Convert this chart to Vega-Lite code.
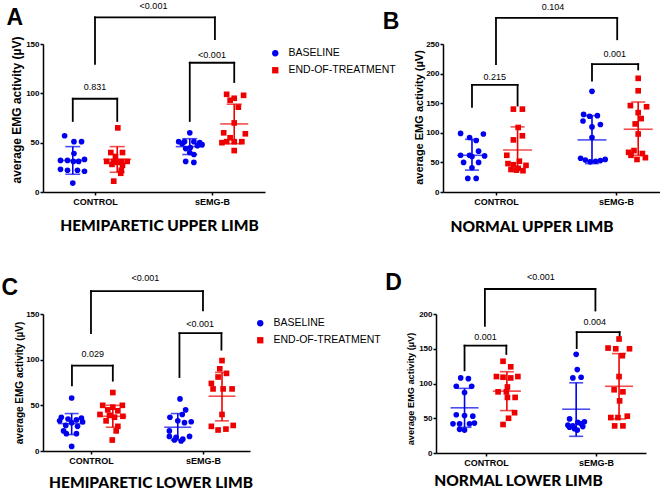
{
"$schema": "https://vega.github.io/schema/vega-lite/v6.json",
"padding": {"left": 1, "top": 1, "right": 0, "bottom": 0},
"background": "white",
"config": {
  "view": {"stroke": null},
  "axis": {"grid": false, "domainColor": "#000", "domainWidth": 1.5, "tickColor": "#000", "tickWidth": 1.5, "tickSize": 3, "labelColor": "#000", "labelFont": "Liberation Sans", "labelFontWeight": "bold", "titleColor": "#000", "titleBaseline": "middle"},
  "axisX": {"labelFontSize": 9, "labelPadding": 2, "titleFont": "Lato", "titleFontWeight": 900, "titleFontSize": 15.5},
  "axisY": {"labelFontSize": 8, "labelPadding": 1, "titleFont": "Liberation Sans", "titleFontWeight": "bold"},
  "legend": {"labelFont": "Liberation Sans", "labelFontSize": 10.5, "labelColor": "#000", "symbolSize": 40, "rowPadding": 6, "padding": 4, "labelOffset": 8, "symbolStrokeWidth": 0},
  "text": {"font": "Liberation Sans", "color": "#000"}
},
"spacing": 36,
"resolve": {"scale": {"x": "independent", "y": "independent", "color": "independent", "shape": "independent"}, "axis": {"x": "independent", "y": "independent"}, "legend": {"color": "independent", "shape": "independent"}},
"vconcat": [
{
"hconcat": [
{
 "width": 222, "height": 148,
 "encoding": {
  "x": {"field": "x", "type": "quantitative", "scale": {"domain": [0.111, 3.906], "nice": false, "zero": false}, "axis": {"values": [1, 3], "labelExpr": "datum.value == 1 ? 'CONTROL' : 'sEMG-B'", "title": "HEMIPARETIC UPPER LIMB", "titleX": 116, "titleY": 33}},
  "y": {"field": "y", "type": "quantitative", "scale": {"domain": [0, 150], "nice": false}, "axis": {"values": [0, 50, 100, 150], "title": "average EMG activity (µV)", "titleFontSize": 12, "titleX": -26.5, "titleY": 65.5}}
 },
 "layer": [
  {"data": {"values": [
    {"x": 0.62, "x2": 1.38, "y": 94.5, "y2": 94.5}, {"x": 0.62, "x2": 0.62, "y": 72, "y2": 94.5}, {"x": 1.38, "x2": 1.38, "y": 72, "y2": 94.5},
    {"x": 2.62, "x2": 3.38, "y": 131, "y2": 131}, {"x": 2.62, "x2": 2.62, "y": 72, "y2": 131}, {"x": 3.38, "x2": 3.38, "y": 111.5, "y2": 131},
    {"x": 1.0, "x2": 3.05, "y": 177, "y2": 177}, {"x": 1.0, "x2": 1.0, "y": 130, "y2": 177}, {"x": 3.05, "x2": 3.05, "y": 155, "y2": 177}]},
   "mark": {"type": "rule", "color": "#000", "strokeWidth": 1.8, "strokeCap": "square"},
   "encoding": {"x2": {"field": "x2"}, "y2": {"field": "y2"}}},
  {"data": {"values": [
    {"t": "BASELINE", "x": 0.48, "y": 57}, {"t": "BASELINE", "x": 0.64, "y": 51}, {"t": "BASELINE", "x": 0.77, "y": 51}, {"t": "BASELINE", "x": 0.64, "y": 39}, {"t": "BASELINE", "x": 0.41, "y": 32}, {"t": "BASELINE", "x": 0.53, "y": 32}, {"t": "BASELINE", "x": 0.63, "y": 31}, {"t": "BASELINE", "x": 0.72, "y": 31}, {"t": "BASELINE", "x": 0.82, "y": 33}, {"t": "BASELINE", "x": 0.41, "y": 23}, {"t": "BASELINE", "x": 0.53, "y": 22}, {"t": "BASELINE", "x": 0.70, "y": 22}, {"t": "BASELINE", "x": 0.82, "y": 21}, {"t": "BASELINE", "x": 0.62, "y": 9},
    {"t": "END-OF-TREATMENT", "x": 1.39, "y": 65}, {"t": "END-OF-TREATMENT", "x": 1.27, "y": 40}, {"t": "END-OF-TREATMENT", "x": 1.47, "y": 40}, {"t": "END-OF-TREATMENT", "x": 1.35, "y": 36}, {"t": "END-OF-TREATMENT", "x": 1.20, "y": 31}, {"t": "END-OF-TREATMENT", "x": 1.32, "y": 31}, {"t": "END-OF-TREATMENT", "x": 1.55, "y": 31}, {"t": "END-OF-TREATMENT", "x": 1.45, "y": 31}, {"t": "END-OF-TREATMENT", "x": 1.29, "y": 28}, {"t": "END-OF-TREATMENT", "x": 1.47, "y": 27}, {"t": "END-OF-TREATMENT", "x": 1.38, "y": 30}, {"t": "END-OF-TREATMENT", "x": 1.45, "y": 22}, {"t": "END-OF-TREATMENT", "x": 1.44, "y": 19}, {"t": "END-OF-TREATMENT", "x": 1.32, "y": 11},
    {"t": "BASELINE", "x": 2.62, "y": 60}, {"t": "BASELINE", "x": 2.43, "y": 51}, {"t": "BASELINE", "x": 2.53, "y": 51}, {"t": "BASELINE", "x": 2.69, "y": 51}, {"t": "BASELINE", "x": 2.79, "y": 50}, {"t": "BASELINE", "x": 2.49, "y": 49}, {"t": "BASELINE", "x": 2.83, "y": 48}, {"t": "BASELINE", "x": 2.75, "y": 47}, {"t": "BASELINE", "x": 2.63, "y": 45}, {"t": "BASELINE", "x": 2.55, "y": 44}, {"t": "BASELINE", "x": 2.62, "y": 40}, {"t": "BASELINE", "x": 2.69, "y": 38}, {"t": "BASELINE", "x": 2.55, "y": 31}, {"t": "BASELINE", "x": 2.69, "y": 30},
    {"t": "END-OF-TREATMENT", "x": 3.25, "y": 99}, {"t": "END-OF-TREATMENT", "x": 3.54, "y": 98}, {"t": "END-OF-TREATMENT", "x": 3.38, "y": 95}, {"t": "END-OF-TREATMENT", "x": 3.31, "y": 93}, {"t": "END-OF-TREATMENT", "x": 3.45, "y": 86}, {"t": "END-OF-TREATMENT", "x": 3.38, "y": 70}, {"t": "END-OF-TREATMENT", "x": 3.20, "y": 60}, {"t": "END-OF-TREATMENT", "x": 3.57, "y": 59}, {"t": "END-OF-TREATMENT", "x": 3.31, "y": 55}, {"t": "END-OF-TREATMENT", "x": 3.25, "y": 51}, {"t": "END-OF-TREATMENT", "x": 3.38, "y": 51}, {"t": "END-OF-TREATMENT", "x": 3.51, "y": 51}, {"t": "END-OF-TREATMENT", "x": 3.17, "y": 50}, {"t": "END-OF-TREATMENT", "x": 3.38, "y": 42}]},
   "mark": {"type": "point", "filled": true, "size": 32, "opacity": 1},
   "encoding": {
    "color": {"field": "t", "type": "nominal", "scale": {"domain": ["BASELINE", "END-OF-TREATMENT"], "range": ["#0000ee", "#ee0000"]}, "legend": {"title": null, "orient": "right", "offset": 1}},
    "shape": {"field": "t", "type": "nominal", "scale": {"domain": ["BASELINE", "END-OF-TREATMENT"], "range": ["circle", "square"]}, "legend": {"title": null, "orient": "right", "offset": 1}}}},
  {"data": {"values": [
    {"t": "BASELINE", "x": 0.62, "mean": 32, "lo": 18, "hi": 46}, {"t": "END-OF-TREATMENT", "x": 1.38, "mean": 33, "lo": 20, "hi": 46},
    {"t": "BASELINE", "x": 2.62, "mean": 46, "lo": 38, "hi": 54}, {"t": "END-OF-TREATMENT", "x": 3.38, "mean": 69, "lo": 49, "hi": 89}]},
   "encoding": {"color": {"field": "t", "type": "nominal", "legend": null}},
   "layer": [
    {"mark": {"type": "rule", "strokeWidth": 1.6}, "encoding": {"y": {"field": "lo", "type": "quantitative"}, "y2": {"field": "hi"}}},
    {"mark": {"type": "tick", "orient": "horizontal", "size": 28, "thickness": 1.6}, "encoding": {"y": {"field": "mean", "type": "quantitative"}}},
    {"mark": {"type": "tick", "orient": "horizontal", "size": 15, "thickness": 1.6}, "encoding": {"y": {"field": "lo", "type": "quantitative"}}},
    {"mark": {"type": "tick", "orient": "horizontal", "size": 15, "thickness": 1.6}, "encoding": {"y": {"field": "hi", "type": "quantitative"}}}]},
  {"data": {"values": [{"x": 1.0, "y": 106, "label": "0.831"}, {"x": 3.0, "y": 139, "label": "<0.001"}, {"x": 2.0, "y": 189, "label": "<0.001"}]},
   "mark": {"type": "text", "fontSize": 9}, "encoding": {"text": {"field": "label"}}},
  {"data": {"values": [{"x": -0.37, "y": 176, "label": "A"}]},
   "mark": {"type": "text", "fontSize": 23, "fontWeight": "bold"}, "encoding": {"text": {"field": "label"}}}
 ]
},
{
 "width": 221, "height": 148,
 "encoding": {
  "x": {"field": "x", "type": "quantitative", "scale": {"domain": [0.117, 3.8], "nice": false, "zero": false}, "axis": {"values": [1, 3], "labelExpr": "datum.value == 1 ? 'CONTROL' : 'sEMG-B'", "title": "NORMAL UPPER LIMB", "titleX": 88.5, "titleY": 34}},
  "y": {"field": "y", "type": "quantitative", "scale": {"domain": [0, 250], "nice": false}, "axis": {"values": [0, 50, 100, 150, 200, 250], "title": "average EMG activity (µV)", "titleFontSize": 11, "titleX": -24, "titleY": 73}}
 },
 "layer": [
  {"data": {"values": [
    {"x": 0.60, "x2": 1.36, "y": 181, "y2": 181}, {"x": 0.60, "x2": 0.60, "y": 144, "y2": 181}, {"x": 1.36, "x2": 1.36, "y": 146, "y2": 181},
    {"x": 2.60, "x2": 3.37, "y": 216, "y2": 216}, {"x": 2.60, "x2": 2.60, "y": 188, "y2": 216}, {"x": 3.37, "x2": 3.37, "y": 207, "y2": 216},
    {"x": 1.0, "x2": 3.02, "y": 294, "y2": 294}, {"x": 1.0, "x2": 1.0, "y": 216, "y2": 294}, {"x": 3.02, "x2": 3.02, "y": 258, "y2": 294}]},
   "mark": {"type": "rule", "color": "#000", "strokeWidth": 1.8, "strokeCap": "square"},
   "encoding": {"x2": {"field": "x2"}, "y2": {"field": "y2"}}},
  {"data": {"values": [
    {"t": "BASELINE", "x": 0.41, "y": 99}, {"t": "BASELINE", "x": 0.79, "y": 98}, {"t": "BASELINE", "x": 0.56, "y": 92}, {"t": "BASELINE", "x": 0.67, "y": 87}, {"t": "BASELINE", "x": 0.71, "y": 69}, {"t": "BASELINE", "x": 0.41, "y": 62}, {"t": "BASELINE", "x": 0.56, "y": 62}, {"t": "BASELINE", "x": 0.81, "y": 61}, {"t": "BASELINE", "x": 0.60, "y": 60}, {"t": "BASELINE", "x": 0.46, "y": 50}, {"t": "BASELINE", "x": 0.71, "y": 50}, {"t": "BASELINE", "x": 0.60, "y": 41}, {"t": "BASELINE", "x": 0.53, "y": 23}, {"t": "BASELINE", "x": 0.67, "y": 23},
    {"t": "END-OF-TREATMENT", "x": 1.29, "y": 140}, {"t": "END-OF-TREATMENT", "x": 1.44, "y": 140}, {"t": "END-OF-TREATMENT", "x": 1.37, "y": 109}, {"t": "END-OF-TREATMENT", "x": 1.44, "y": 95}, {"t": "END-OF-TREATMENT", "x": 1.29, "y": 88}, {"t": "END-OF-TREATMENT", "x": 1.18, "y": 62}, {"t": "END-OF-TREATMENT", "x": 1.39, "y": 52}, {"t": "END-OF-TREATMENT", "x": 1.20, "y": 48}, {"t": "END-OF-TREATMENT", "x": 1.29, "y": 46}, {"t": "END-OF-TREATMENT", "x": 1.50, "y": 45}, {"t": "END-OF-TREATMENT", "x": 1.37, "y": 40}, {"t": "END-OF-TREATMENT", "x": 1.25, "y": 38}, {"t": "END-OF-TREATMENT", "x": 1.45, "y": 36}, {"t": "END-OF-TREATMENT", "x": 1.34, "y": 37},
    {"t": "BASELINE", "x": 2.60, "y": 170}, {"t": "BASELINE", "x": 2.46, "y": 131}, {"t": "BASELINE", "x": 2.56, "y": 128}, {"t": "BASELINE", "x": 2.69, "y": 129}, {"t": "BASELINE", "x": 2.45, "y": 120}, {"t": "BASELINE", "x": 2.74, "y": 114}, {"t": "BASELINE", "x": 2.60, "y": 110}, {"t": "BASELINE", "x": 2.60, "y": 92}, {"t": "BASELINE", "x": 2.41, "y": 57}, {"t": "BASELINE", "x": 2.82, "y": 55}, {"t": "BASELINE", "x": 2.49, "y": 54}, {"t": "BASELINE", "x": 2.74, "y": 53}, {"t": "BASELINE", "x": 2.57, "y": 51}, {"t": "BASELINE", "x": 2.66, "y": 52},
    {"t": "END-OF-TREATMENT", "x": 3.37, "y": 192}, {"t": "END-OF-TREATMENT", "x": 3.37, "y": 171}, {"t": "END-OF-TREATMENT", "x": 3.24, "y": 146}, {"t": "END-OF-TREATMENT", "x": 3.51, "y": 144}, {"t": "END-OF-TREATMENT", "x": 3.37, "y": 134}, {"t": "END-OF-TREATMENT", "x": 3.42, "y": 124}, {"t": "END-OF-TREATMENT", "x": 3.32, "y": 115}, {"t": "END-OF-TREATMENT", "x": 3.37, "y": 98}, {"t": "END-OF-TREATMENT", "x": 3.30, "y": 70}, {"t": "END-OF-TREATMENT", "x": 3.21, "y": 67}, {"t": "END-OF-TREATMENT", "x": 3.44, "y": 65}, {"t": "END-OF-TREATMENT", "x": 3.25, "y": 62}, {"t": "END-OF-TREATMENT", "x": 3.49, "y": 58}, {"t": "END-OF-TREATMENT", "x": 3.35, "y": 55}]},
   "mark": {"type": "point", "filled": true, "size": 32, "opacity": 1},
   "encoding": {
    "color": {"field": "t", "type": "nominal", "scale": {"domain": ["BASELINE", "END-OF-TREATMENT"], "range": ["#0000ee", "#ee0000"]}, "legend": null},
    "shape": {"field": "t", "type": "nominal", "scale": {"domain": ["BASELINE", "END-OF-TREATMENT"], "range": ["circle", "square"]}, "legend": null}}},
  {"data": {"values": [
    {"t": "BASELINE", "x": 0.60, "mean": 62, "lo": 37, "hi": 89}, {"t": "END-OF-TREATMENT", "x": 1.36, "mean": 71, "lo": 38, "hi": 110},
    {"t": "BASELINE", "x": 2.60, "mean": 88, "lo": 48, "hi": 129}, {"t": "END-OF-TREATMENT", "x": 3.37, "mean": 106, "lo": 62, "hi": 152}]},
   "encoding": {"color": {"field": "t", "type": "nominal", "legend": null}},
   "layer": [
    {"mark": {"type": "rule", "strokeWidth": 1.6}, "encoding": {"y": {"field": "lo", "type": "quantitative"}, "y2": {"field": "hi"}}},
    {"mark": {"type": "tick", "orient": "horizontal", "size": 29, "thickness": 1.6}, "encoding": {"y": {"field": "mean", "type": "quantitative"}}},
    {"mark": {"type": "tick", "orient": "horizontal", "size": 14, "thickness": 1.6}, "encoding": {"y": {"field": "lo", "type": "quantitative"}}},
    {"mark": {"type": "tick", "orient": "horizontal", "size": 14, "thickness": 1.6}, "encoding": {"y": {"field": "hi", "type": "quantitative"}}}]},
  {"data": {"values": [{"x": 0.98, "y": 195, "label": "0.215"}, {"x": 2.98, "y": 233, "label": "0.001"}, {"x": 1.95, "y": 313, "label": "0.104"}]},
   "mark": {"type": "text", "fontSize": 9}, "encoding": {"text": {"field": "label"}}},
  {"data": {"values": [{"x": -0.75, "y": 287, "label": "B"}]},
   "mark": {"type": "text", "fontSize": 23, "fontWeight": "bold"}, "encoding": {"text": {"field": "label"}}}
 ]
}
],
"spacing": 178,
"bounds": "flush",
"resolve": {"scale": {"x": "independent", "y": "independent", "color": "independent", "shape": "independent"}, "axis": {"x": "independent", "y": "independent"}, "legend": {"color": "independent", "shape": "independent"}}
},
{
"hconcat": [
{
 "width": 207, "height": 137,
 "encoding": {
  "x": {"field": "x", "type": "quantitative", "scale": {"domain": [0.143, 3.84], "nice": false, "zero": false}, "axis": {"values": [1, 3], "labelExpr": "datum.value == 1 ? 'CONTROL' : 'sEMG-B'", "title": "HEMIPARETIC LOWER LIMB", "titleX": 107.5, "titleY": 31}},
  "y": {"field": "y", "type": "quantitative", "scale": {"domain": [0, 150], "nice": false}, "axis": {"values": [0, 50, 100, 150], "title": "average EMG activity (µV)", "titleFontSize": 10, "titleX": -24, "titleY": 68.5}}
 },
 "layer": [
  {"data": {"values": [
    {"x": 0.66, "x2": 1.39, "y": 93.5, "y2": 93.5}, {"x": 0.66, "x2": 0.66, "y": 72, "y2": 93.5}, {"x": 1.39, "x2": 1.39, "y": 77, "y2": 93.5},
    {"x": 2.58, "x2": 3.33, "y": 129, "y2": 129}, {"x": 2.58, "x2": 2.58, "y": 81, "y2": 129}, {"x": 3.33, "x2": 3.33, "y": 111, "y2": 129},
    {"x": 1.0, "x2": 3.0, "y": 175, "y2": 175}, {"x": 1.0, "x2": 1.0, "y": 129, "y2": 175}, {"x": 3.0, "x2": 3.0, "y": 154, "y2": 175}]},
   "mark": {"type": "rule", "color": "#000", "strokeWidth": 1.8, "strokeCap": "square"},
   "encoding": {"x2": {"field": "x2"}, "y2": {"field": "y2"}}},
  {"data": {"values": [
    {"t": "BASELINE", "x": 0.655, "y": 58}, {"t": "BASELINE", "x": 0.47, "y": 37}, {"t": "BASELINE", "x": 0.83, "y": 36}, {"t": "BASELINE", "x": 0.59, "y": 35}, {"t": "BASELINE", "x": 0.74, "y": 34}, {"t": "BASELINE", "x": 0.44, "y": 33}, {"t": "BASELINE", "x": 0.85, "y": 32}, {"t": "BASELINE", "x": 0.655, "y": 31}, {"t": "BASELINE", "x": 0.55, "y": 28}, {"t": "BASELINE", "x": 0.76, "y": 27}, {"t": "BASELINE", "x": 0.51, "y": 22}, {"t": "BASELINE", "x": 0.56, "y": 19}, {"t": "BASELINE", "x": 0.74, "y": 19}, {"t": "BASELINE", "x": 0.655, "y": 5},
    {"t": "END-OF-TREATMENT", "x": 1.39, "y": 64}, {"t": "END-OF-TREATMENT", "x": 1.21, "y": 50}, {"t": "END-OF-TREATMENT", "x": 1.56, "y": 50}, {"t": "END-OF-TREATMENT", "x": 1.39, "y": 48}, {"t": "END-OF-TREATMENT", "x": 1.30, "y": 45}, {"t": "END-OF-TREATMENT", "x": 1.48, "y": 44}, {"t": "END-OF-TREATMENT", "x": 1.16, "y": 40}, {"t": "END-OF-TREATMENT", "x": 1.33, "y": 39}, {"t": "END-OF-TREATMENT", "x": 1.57, "y": 38}, {"t": "END-OF-TREATMENT", "x": 1.42, "y": 37}, {"t": "END-OF-TREATMENT", "x": 1.27, "y": 33}, {"t": "END-OF-TREATMENT", "x": 1.48, "y": 27}, {"t": "END-OF-TREATMENT", "x": 1.45, "y": 22}, {"t": "END-OF-TREATMENT", "x": 1.38, "y": 12},
    {"t": "BASELINE", "x": 2.59, "y": 57}, {"t": "BASELINE", "x": 2.69, "y": 45}, {"t": "BASELINE", "x": 2.63, "y": 40}, {"t": "BASELINE", "x": 2.41, "y": 37}, {"t": "BASELINE", "x": 2.55, "y": 33}, {"t": "BASELINE", "x": 2.67, "y": 31}, {"t": "BASELINE", "x": 2.79, "y": 32}, {"t": "BASELINE", "x": 2.40, "y": 22}, {"t": "BASELINE", "x": 2.40, "y": 16}, {"t": "BASELINE", "x": 2.52, "y": 15}, {"t": "BASELINE", "x": 2.64, "y": 13}, {"t": "BASELINE", "x": 2.49, "y": 12}, {"t": "BASELINE", "x": 2.61, "y": 11}, {"t": "BASELINE", "x": 2.76, "y": 16},
    {"t": "END-OF-TREATMENT", "x": 3.34, "y": 99}, {"t": "END-OF-TREATMENT", "x": 3.30, "y": 90}, {"t": "END-OF-TREATMENT", "x": 3.42, "y": 85}, {"t": "END-OF-TREATMENT", "x": 3.27, "y": 81}, {"t": "END-OF-TREATMENT", "x": 3.15, "y": 74}, {"t": "END-OF-TREATMENT", "x": 3.18, "y": 68}, {"t": "END-OF-TREATMENT", "x": 3.36, "y": 68}, {"t": "END-OF-TREATMENT", "x": 3.52, "y": 68}, {"t": "END-OF-TREATMENT", "x": 3.34, "y": 40}, {"t": "END-OF-TREATMENT", "x": 3.15, "y": 27}, {"t": "END-OF-TREATMENT", "x": 3.27, "y": 23}, {"t": "END-OF-TREATMENT", "x": 3.41, "y": 24}, {"t": "END-OF-TREATMENT", "x": 3.54, "y": 28}]},
   "mark": {"type": "point", "filled": true, "size": 32, "opacity": 1},
   "encoding": {
    "color": {"field": "t", "type": "nominal", "scale": {"domain": ["BASELINE", "END-OF-TREATMENT"], "range": ["#0000ee", "#ee0000"]}, "legend": {"title": null, "orient": "right", "offset": 1}},
    "shape": {"field": "t", "type": "nominal", "scale": {"domain": ["BASELINE", "END-OF-TREATMENT"], "range": ["circle", "square"]}, "legend": {"title": null, "orient": "right", "offset": 1}}}},
  {"data": {"values": [
    {"t": "BASELINE", "x": 0.655, "mean": 30, "lo": 18, "hi": 41}, {"t": "END-OF-TREATMENT", "x": 1.39, "mean": 38, "lo": 26, "hi": 50},
    {"t": "BASELINE", "x": 2.55, "mean": 26, "lo": 12, "hi": 41}, {"t": "END-OF-TREATMENT", "x": 3.34, "mean": 60, "lo": 33, "hi": 86}]},
   "encoding": {"color": {"field": "t", "type": "nominal", "legend": null}},
   "layer": [
    {"mark": {"type": "rule", "strokeWidth": 1.6}, "encoding": {"y": {"field": "lo", "type": "quantitative"}, "y2": {"field": "hi"}}},
    {"mark": {"type": "tick", "orient": "horizontal", "size": 27, "thickness": 1.6}, "encoding": {"y": {"field": "mean", "type": "quantitative"}}},
    {"mark": {"type": "tick", "orient": "horizontal", "size": 14, "thickness": 1.6}, "encoding": {"y": {"field": "lo", "type": "quantitative"}}},
    {"mark": {"type": "tick", "orient": "horizontal", "size": 14, "thickness": 1.6}, "encoding": {"y": {"field": "hi", "type": "quantitative"}}}]},
  {"data": {"values": [{"x": 1.03, "y": 106, "label": "0.029"}, {"x": 2.95, "y": 139, "label": "<0.001"}, {"x": 1.97, "y": 189, "label": "<0.001"}]},
   "mark": {"type": "text", "fontSize": 9}, "encoding": {"text": {"field": "label"}}},
  {"data": {"values": [{"x": -0.45, "y": 179, "label": "C"}]},
   "mark": {"type": "text", "fontSize": 23, "fontWeight": "bold"}, "encoding": {"text": {"field": "label"}}}
 ]
},
{
 "width": 210, "height": 139,
 "encoding": {
  "x": {"field": "x", "type": "quantitative", "scale": {"domain": [0.091, 3.91], "nice": false, "zero": false}, "axis": {"values": [1, 3], "labelExpr": "datum.value == 1 ? 'CONTROL' : 'sEMG-B'", "title": "NORMAL LOWER LIMB", "titleX": 82, "titleY": 27}},
  "y": {"field": "y", "type": "quantitative", "scale": {"domain": [0, 200], "nice": false}, "axis": {"values": [0, 50, 100, 150, 200], "title": "average EMG activity (µV)", "titleFontSize": 9.2, "titleX": -25.5, "titleY": 74.5}}
 },
 "layer": [
  {"data": {"values": [
    {"x": 0.61, "x2": 1.37, "y": 154.5, "y2": 154.5}, {"x": 0.61, "x2": 0.61, "y": 119, "y2": 154.5}, {"x": 1.37, "x2": 1.37, "y": 142.5, "y2": 154.5},
    {"x": 2.65, "x2": 3.43, "y": 174, "y2": 174}, {"x": 2.65, "x2": 2.65, "y": 151, "y2": 174}, {"x": 3.43, "x2": 3.43, "y": 164, "y2": 174},
    {"x": 0.98, "x2": 2.99, "y": 236, "y2": 236}, {"x": 0.98, "x2": 0.98, "y": 183, "y2": 236}, {"x": 2.99, "x2": 2.99, "y": 205, "y2": 236}]},
   "mark": {"type": "rule", "color": "#000", "strokeWidth": 1.8, "strokeCap": "square"},
   "encoding": {"x2": {"field": "x2"}, "y2": {"field": "y2"}}},
  {"data": {"values": [
    {"t": "BASELINE", "x": 0.54, "y": 108}, {"t": "BASELINE", "x": 0.68, "y": 107}, {"t": "BASELINE", "x": 0.46, "y": 96}, {"t": "BASELINE", "x": 0.74, "y": 96}, {"t": "BASELINE", "x": 0.61, "y": 87}, {"t": "BASELINE", "x": 0.46, "y": 55}, {"t": "BASELINE", "x": 0.61, "y": 54}, {"t": "BASELINE", "x": 0.76, "y": 53}, {"t": "BASELINE", "x": 0.40, "y": 42}, {"t": "BASELINE", "x": 0.52, "y": 42}, {"t": "BASELINE", "x": 0.79, "y": 43}, {"t": "BASELINE", "x": 0.70, "y": 42}, {"t": "BASELINE", "x": 0.52, "y": 34}, {"t": "BASELINE", "x": 0.61, "y": 33},
    {"t": "END-OF-TREATMENT", "x": 1.31, "y": 132}, {"t": "END-OF-TREATMENT", "x": 1.45, "y": 124}, {"t": "END-OF-TREATMENT", "x": 1.19, "y": 110}, {"t": "END-OF-TREATMENT", "x": 1.31, "y": 109}, {"t": "END-OF-TREATMENT", "x": 1.45, "y": 108}, {"t": "END-OF-TREATMENT", "x": 1.58, "y": 110}, {"t": "END-OF-TREATMENT", "x": 1.39, "y": 95}, {"t": "END-OF-TREATMENT", "x": 1.22, "y": 88}, {"t": "END-OF-TREATMENT", "x": 1.37, "y": 88}, {"t": "END-OF-TREATMENT", "x": 1.53, "y": 80}, {"t": "END-OF-TREATMENT", "x": 1.39, "y": 80}, {"t": "END-OF-TREATMENT", "x": 1.52, "y": 58}, {"t": "END-OF-TREATMENT", "x": 1.41, "y": 50}, {"t": "END-OF-TREATMENT", "x": 1.31, "y": 41},
    {"t": "BASELINE", "x": 2.64, "y": 142}, {"t": "BASELINE", "x": 2.66, "y": 120}, {"t": "BASELINE", "x": 2.58, "y": 108}, {"t": "BASELINE", "x": 2.73, "y": 109}, {"t": "BASELINE", "x": 2.52, "y": 49}, {"t": "BASELINE", "x": 2.79, "y": 45}, {"t": "BASELINE", "x": 2.67, "y": 44}, {"t": "BASELINE", "x": 2.73, "y": 42}, {"t": "BASELINE", "x": 2.49, "y": 40}, {"t": "BASELINE", "x": 2.58, "y": 39}, {"t": "BASELINE", "x": 2.76, "y": 38}, {"t": "BASELINE", "x": 2.52, "y": 37}, {"t": "BASELINE", "x": 2.61, "y": 35}, {"t": "BASELINE", "x": 2.66, "y": 33},
    {"t": "END-OF-TREATMENT", "x": 3.42, "y": 164}, {"t": "END-OF-TREATMENT", "x": 3.22, "y": 151}, {"t": "END-OF-TREATMENT", "x": 3.36, "y": 150}, {"t": "END-OF-TREATMENT", "x": 3.61, "y": 150}, {"t": "END-OF-TREATMENT", "x": 3.48, "y": 140}, {"t": "END-OF-TREATMENT", "x": 3.42, "y": 110}, {"t": "END-OF-TREATMENT", "x": 3.33, "y": 91}, {"t": "END-OF-TREATMENT", "x": 3.49, "y": 88}, {"t": "END-OF-TREATMENT", "x": 3.43, "y": 75}, {"t": "END-OF-TREATMENT", "x": 3.27, "y": 51}, {"t": "END-OF-TREATMENT", "x": 3.40, "y": 51}, {"t": "END-OF-TREATMENT", "x": 3.57, "y": 53}, {"t": "END-OF-TREATMENT", "x": 3.34, "y": 39}, {"t": "END-OF-TREATMENT", "x": 3.49, "y": 39}]},
   "mark": {"type": "point", "filled": true, "size": 32, "opacity": 1},
   "encoding": {
    "color": {"field": "t", "type": "nominal", "scale": {"domain": ["BASELINE", "END-OF-TREATMENT"], "range": ["#0000ee", "#ee0000"]}, "legend": null},
    "shape": {"field": "t", "type": "nominal", "scale": {"domain": ["BASELINE", "END-OF-TREATMENT"], "range": ["circle", "square"]}, "legend": null}}},
  {"data": {"values": [
    {"t": "BASELINE", "x": 0.61, "mean": 65, "lo": 37, "hi": 93}, {"t": "END-OF-TREATMENT", "x": 1.38, "mean": 89, "lo": 61, "hi": 117},
    {"t": "BASELINE", "x": 2.64, "mean": 63, "lo": 24, "hi": 101}, {"t": "END-OF-TREATMENT", "x": 3.42, "mean": 96, "lo": 49, "hi": 143}]},
   "encoding": {"color": {"field": "t", "type": "nominal", "legend": null}},
   "layer": [
    {"mark": {"type": "rule", "strokeWidth": 1.6}, "encoding": {"y": {"field": "lo", "type": "quantitative"}, "y2": {"field": "hi"}}},
    {"mark": {"type": "tick", "orient": "horizontal", "size": 28, "thickness": 1.6}, "encoding": {"y": {"field": "mean", "type": "quantitative"}}},
    {"mark": {"type": "tick", "orient": "horizontal", "size": 14, "thickness": 1.6}, "encoding": {"y": {"field": "lo", "type": "quantitative"}}},
    {"mark": {"type": "tick", "orient": "horizontal", "size": 14, "thickness": 1.6}, "encoding": {"y": {"field": "hi", "type": "quantitative"}}}]},
  {"data": {"values": [{"x": 0.99, "y": 166.5, "label": "0.001"}, {"x": 2.98, "y": 188, "label": "0.004"}, {"x": 2.0, "y": 252.6, "label": "<0.001"}]},
   "mark": {"type": "text", "fontSize": 9}, "encoding": {"text": {"field": "label"}}},
  {"data": {"values": [{"x": -0.68, "y": 245, "label": "D"}]},
   "mark": {"type": "text", "fontSize": 23, "fontWeight": "bold"}, "encoding": {"text": {"field": "label"}}}
 ]
}
],
"spacing": 186,
"bounds": "flush",
"resolve": {"scale": {"x": "independent", "y": "independent", "color": "independent", "shape": "independent"}, "axis": {"x": "independent", "y": "independent"}, "legend": {"color": "independent", "shape": "independent"}}
}
]
}
